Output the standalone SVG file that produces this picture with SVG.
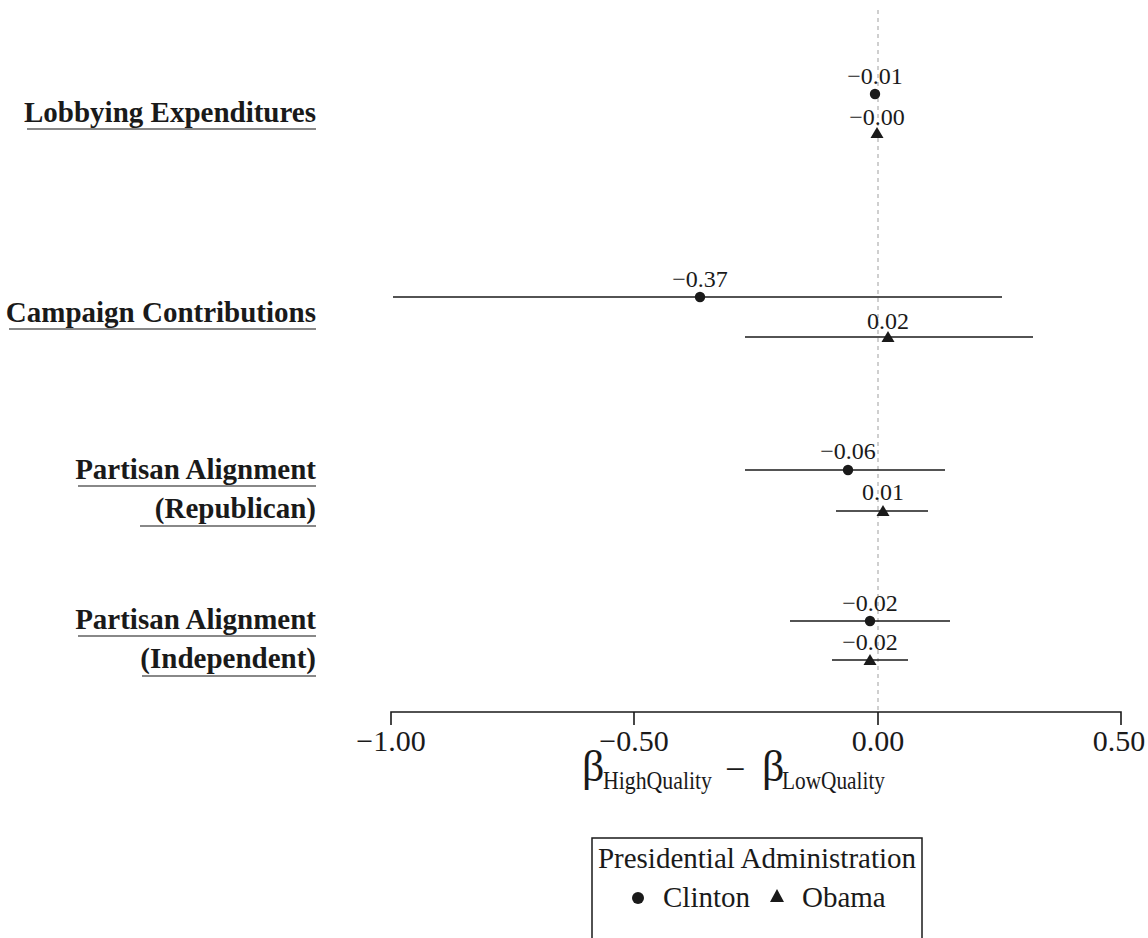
<svg xmlns="http://www.w3.org/2000/svg" width="1148" height="938" viewBox="0 0 1148 938">
<style>
.ylab{font-family:"Liberation Serif","Times New Roman",serif;font-weight:bold;font-size:29px;fill:#1a1a1a;text-anchor:end}
.ul{stroke:#888;stroke-width:2}
.val{font-family:"Liberation Serif","Times New Roman",serif;font-size:24px;fill:#1a1a1a;text-anchor:middle}
.tick{font-family:"Liberation Serif","Times New Roman",serif;font-size:30px;fill:#1a1a1a;text-anchor:middle}
.ci{stroke:#1a1a1a;stroke-width:1.4}
.ax{stroke:#1a1a1a;stroke-width:1.6;fill:none}
.lg{font-family:"Liberation Serif","Times New Roman",serif;font-size:29px;fill:#1a1a1a}
.pt{fill:#1a1a1a}
</style>
<rect width="1148" height="938" fill="#fff"/>
<line x1="878" y1="10" x2="878" y2="712" stroke="#b0b0b0" stroke-width="1.2" stroke-dasharray="4 4"/>
<g id="ylabels">
<g id="lab-lobbying"><text class="ylab" x="316" y="122">Lobbying Expenditures</text><line class="ul" x1="27" y1="129" x2="316" y2="129"/></g>
<g id="lab-campaign"><text class="ylab" x="316" y="322">Campaign Contributions</text><line class="ul" x1="9" y1="329" x2="316" y2="329"/></g>
<g id="lab-rep"><text class="ylab" x="316" y="479">Partisan Alignment</text><line class="ul" x1="78" y1="486" x2="316" y2="486"/>
<text class="ylab" x="316" y="518">(Republican)</text><line class="ul" x1="140" y1="526" x2="316" y2="526"/></g>
<g id="lab-ind"><text class="ylab" x="316" y="629">Partisan Alignment</text><line class="ul" x1="78" y1="636" x2="316" y2="636"/>
<text class="ylab" x="316" y="668">(Independent)</text><line class="ul" x1="142" y1="676" x2="316" y2="676"/></g>
</g>
<g id="connectors">
<line class="ci" x1="393" y1="297" x2="1002" y2="297"/>
<line class="ci" x1="745" y1="337" x2="1033" y2="337"/>
<line class="ci" x1="745" y1="470" x2="945" y2="470"/>
<line class="ci" x1="836" y1="511" x2="928" y2="511"/>
<line class="ci" x1="790" y1="621" x2="950" y2="621"/>
<line class="ci" x1="832" y1="660" x2="908" y2="660"/>
</g>
<g id="pt-lob-clinton"><circle class="pt" cx="875" cy="94" r="5.2"/><text class="val" x="875" y="84">−0.01</text></g>
<g id="pt-lob-obama"><path class="pt" d="M877 127 L883.5 138 L870.5 138 Z"/><text class="val" x="877" y="125">−0.00</text></g>
<g id="pt-camp-clinton"><circle class="pt" cx="700" cy="297" r="5.2"/><text class="val" x="700" y="287">−0.37</text></g>
<g id="pt-camp-obama"><path class="pt" d="M888 331 L894.5 342 L881.5 342 Z"/><text class="val" x="888" y="329">0.02</text></g>
<g id="pt-rep-clinton"><circle class="pt" cx="848" cy="470" r="5.2"/><text class="val" x="848" y="459">−0.06</text></g>
<g id="pt-rep-obama"><path class="pt" d="M883 505 L889.5 516 L876.5 516 Z"/><text class="val" x="883" y="500">0.01</text></g>
<g id="pt-ind-clinton"><circle class="pt" cx="870" cy="621" r="5.2"/><text class="val" x="870" y="611">−0.02</text></g>
<g id="pt-ind-obama"><path class="pt" d="M870 654 L876.5 665 L863.5 665 Z"/><text class="val" x="870" y="650">−0.02</text></g>
<g id="axis">
<path class="ax" d="M391 725 V712 H1121 V725 M634 712 V725 M878 712 V725"/>
<text class="tick" x="391" y="751">−1.00</text>
<text class="tick" x="634" y="751">−0.50</text>
<text class="tick" x="878" y="751">0.00</text>
<text class="tick" x="1119" y="751">0.50</text>
<text font-family="Liberation Serif,Times New Roman,serif" fill="#1a1a1a" font-size="44"><tspan x="582" y="781">β</tspan><tspan x="603" y="789" font-size="25" textLength="109" lengthAdjust="spacingAndGlyphs">HighQuality</tspan><tspan x="725" y="781" font-size="36">−</tspan><tspan x="762" y="781">β</tspan><tspan x="782" y="789" font-size="25" textLength="103" lengthAdjust="spacingAndGlyphs">LowQuality</tspan></text>
</g>
<g id="legend">
<rect x="592" y="838" width="330" height="120" fill="none" stroke="#1a1a1a" stroke-width="1.5"/>
<text class="lg" x="757" y="868" text-anchor="middle">Presidential Administration</text>
<circle class="pt" cx="638" cy="898" r="6"/>
<text class="lg" x="663" y="907">Clinton</text>
<path class="pt" d="M777 889 L784 902 L770 902 Z"/>
<text class="lg" x="802" y="907">Obama</text>
</g>
</svg>
